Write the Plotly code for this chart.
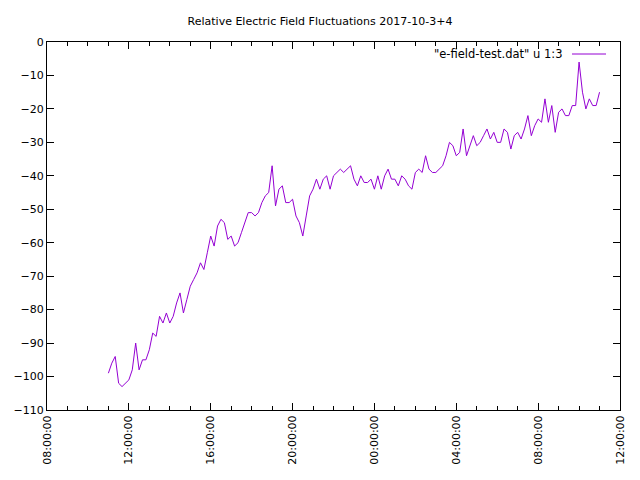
import plotly.graph_objects as go
import pandas as pd

# ---- data ----
start_time = "2017-10-03 11:00:00"
sample_interval = "10min"
field_values = [
    -99, -96, -94, -102, -103, -102, -101, -98, -90, -98,
    -95, -95, -92, -87, -88, -82, -84, -81, -84, -82,
    -78, -75, -81, -77, -73, -71, -69, -66, -68, -63,
    -58, -61, -55, -53, -54, -59, -58, -61, -60, -57,
    -54, -51, -51, -52, -51, -48, -46, -45, -37, -49,
    -44, -43, -48, -48, -47, -52, -54, -58, -52, -46,
    -44, -41, -44, -41, -40, -44, -40, -39, -38, -39,
    -38, -37, -41, -43, -40, -42, -42, -41, -44, -40,
    -44, -40, -38, -41, -41, -43, -40, -41, -43, -44,
    -39, -38, -39, -34, -38, -39, -39, -38, -37, -34,
    -30, -31, -34, -33, -26, -34, -31, -28, -31, -30,
    -28, -26, -29, -27, -30, -30, -26, -27, -32, -28,
    -27, -29, -26, -22, -28, -25, -23, -24, -17, -24,
    -19, -27, -21, -20, -22, -22, -19, -19, -6, -15,
    -20, -17, -19, -19, -15,
]
times = pd.date_range(start=start_time, periods=len(field_values), freq=sample_interval)

title_text = "Relative Electric Field Fluctuations 2017-10-3+4"
legend_text = '"e-field-test.dat" u 1:3'
x_range = ["2017-10-03 08:00:00", "2017-10-04 12:00:00"]
y_range = [-110, 0]

line_color = "#9400d3"
font_family = "DejaVu Sans"

fig = go.Figure()
fig.add_trace(go.Scatter(
    x=times, y=field_values, mode="lines",
    line=dict(color=line_color, width=1),
    name=legend_text, showlegend=False,
))

axis_common = dict(
    showgrid=False, zeroline=False, showline=True, linecolor="black", linewidth=1,
    mirror="allticks", ticks="inside", tickcolor="black",
    tickfont=dict(family=font_family, size=11, color="black"),
)

fig.update_xaxes(
    range=x_range, type="date", dtick=4 * 3600 * 1000,
    tick0="2017-10-03 08:00:00", tickformat="%H:%M:%S", tickangle=-90,
    ticklen=7,
    minor=dict(dtick=3600 * 1000, ticks="inside", ticklen=4, tickcolor="black", showgrid=False),
    **axis_common,
)
fig.update_yaxes(
    range=y_range, dtick=10, ticklen=7,
    **axis_common,
)

# gnuplot-style key: text, then sample line to its right
fig.add_annotation(
    xref="paper", yref="paper", x=(564 - 47) / 573, y=1 - (54 - 42) / 368,
    text=legend_text, showarrow=False, xanchor="right", yanchor="middle",
    font=dict(family=font_family, size=11.5, color="black"),
)
fig.add_shape(
    type="line", xref="paper", yref="paper",
    x0=(572 - 47) / 573, x1=(606 - 47) / 573,
    y0=1 - (54 - 42) / 368, y1=1 - (54 - 42) / 368,
    line=dict(color=line_color, width=1),
)

fig.update_layout(
    width=640, height=480,
    margin=dict(l=47, r=20, t=42, b=70),
    paper_bgcolor="white", plot_bgcolor="white",
    title=dict(text=title_text, x=0.5, xanchor="center", xref="container",
               y=1 - 21 / 480, yanchor="middle", yref="container",
               font=dict(family=font_family, size=11, color="black")),
    showlegend=False,
)

fig.write_html("out.html")
